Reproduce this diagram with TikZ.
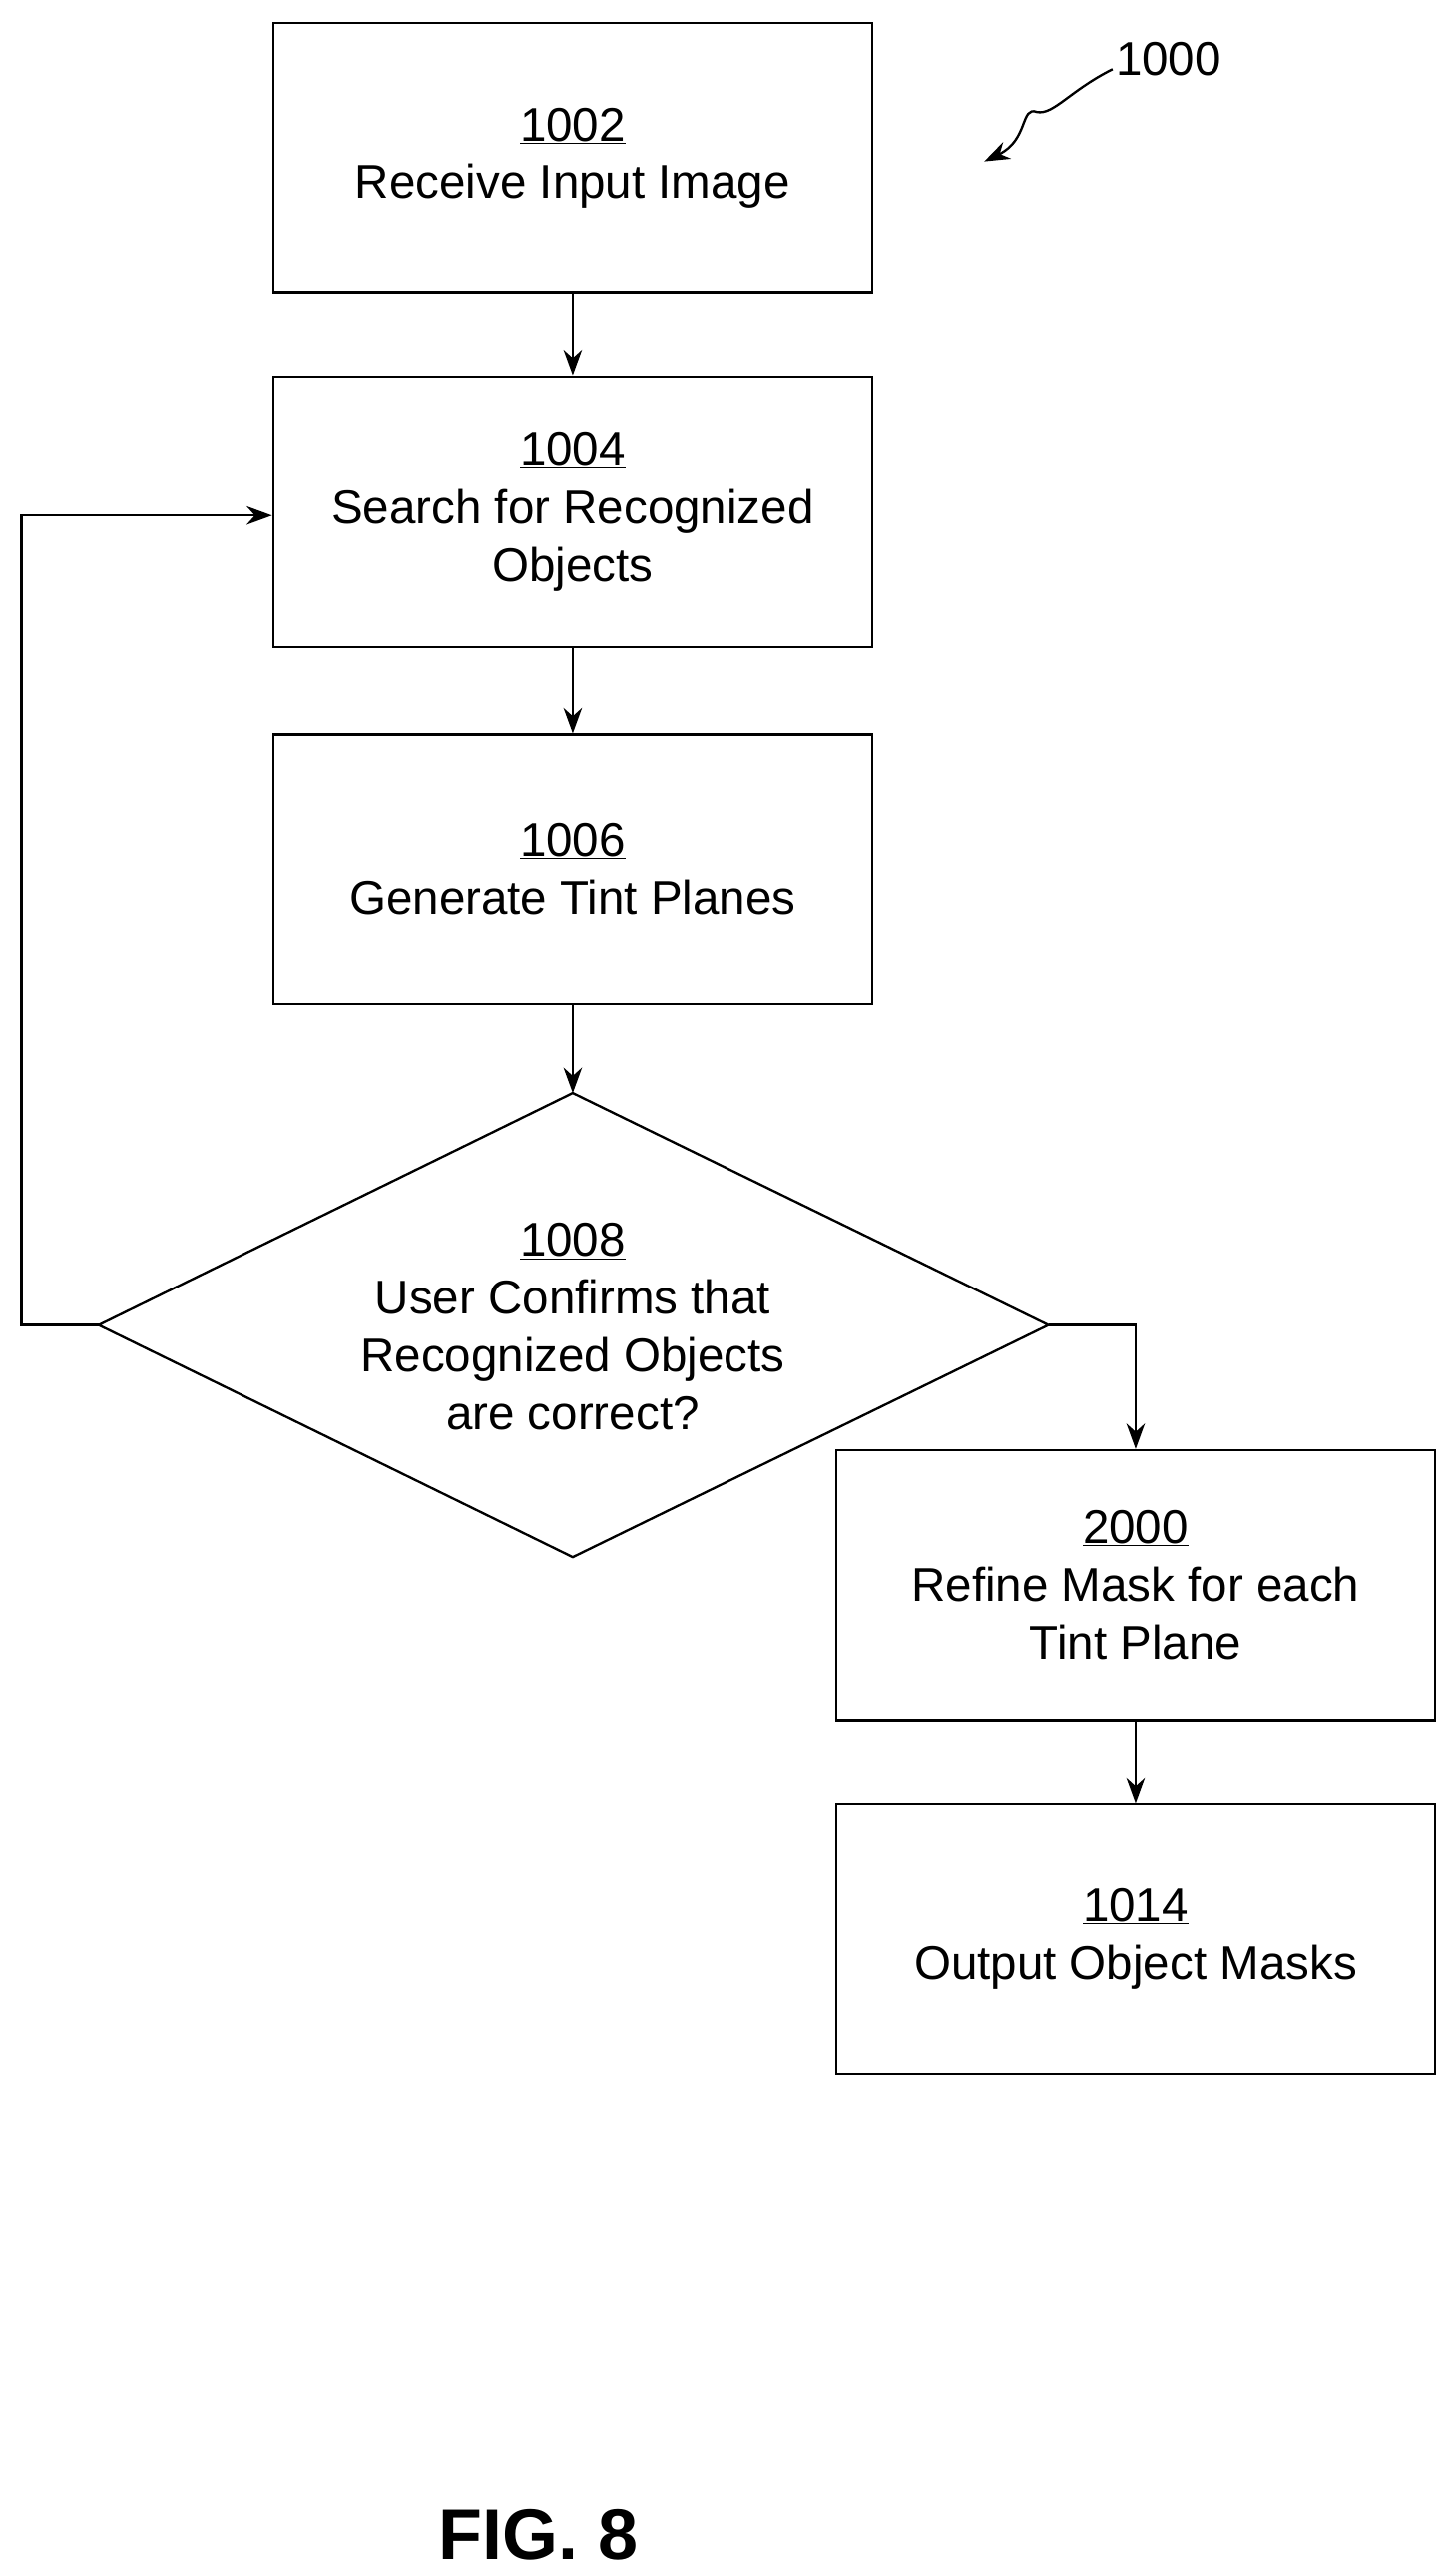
\documentclass[tikz,border=0pt]{standalone}
\usepackage{fontspec}
\setmainfont{Liberation Sans}
\usetikzlibrary{shapes.geometric, arrows.meta}

\begin{document}
\begin{tikzpicture}[x=0.05cm, y=-0.05cm,
    every node/.style={font=\fontsize{41pt}{50pt}\selectfont, align=center},
    box/.style={draw, line width=2pt, minimum width=364*0.05cm, minimum height=164*0.05cm},
    flow/.style={draw, line width=2pt, -{Stealth[length=22pt, width=16pt]}}]
    \useasboundingbox (0,0) rectangle (884,1565);
    % process boxes
    \node [box] (n1002) at (348,96) {\underline{1002}\\Receive Input Image};
    \node [box] (n1004) at (348,311) {\underline{1004}\\Search for Recognized\\Objects};
    \node [box] (n1006) at (348,528) {\underline{1006}\\Generate Tint Planes};
    \draw [line width=2pt] (60,805) -- (348,664) -- (637,805) -- (348,946) -- cycle;
    \coordinate (dl) at (60,805);
    \coordinate (dt) at (348,664);
    \coordinate (dr) at (637,805);
    \node (n1008) at (348,806) {\underline{1008}\\User Confirms that\\Recognized Objects\\are correct?};
    \node [box] (n2000) at (690,963) {\underline{2000}\\Refine Mask for each\\Tint Plane};
    \node [box] (n1014) at (690,1178) {\underline{1014}\\Output Object Masks};
    % connectors
    \draw [flow] (n1002) -- (n1004);
    \draw [flow] (n1004) -- (n1006);
    \draw [flow] (n1006) -- (dt);
    \draw [flow] (dl) -- (13,805) -- (13,313) -- (n1004.west |- 0,313);
    \draw [flow] (dr) -| (n2000.north);
    \draw [flow] (n2000) -- (n1014);
    % reference label
    \node (n1000) at (710,36) {1000};
    \draw [flow] (676,42) .. controls (650,55) and (640,70) .. (630,68)
        .. controls (620,64) and (625,85) .. (598,98);
    \node [font=\fontsize{62pt}{70pt}\selectfont\bfseries] (fig) at (327,1540) {FIG. 8};
\end{tikzpicture}
\end{document}
